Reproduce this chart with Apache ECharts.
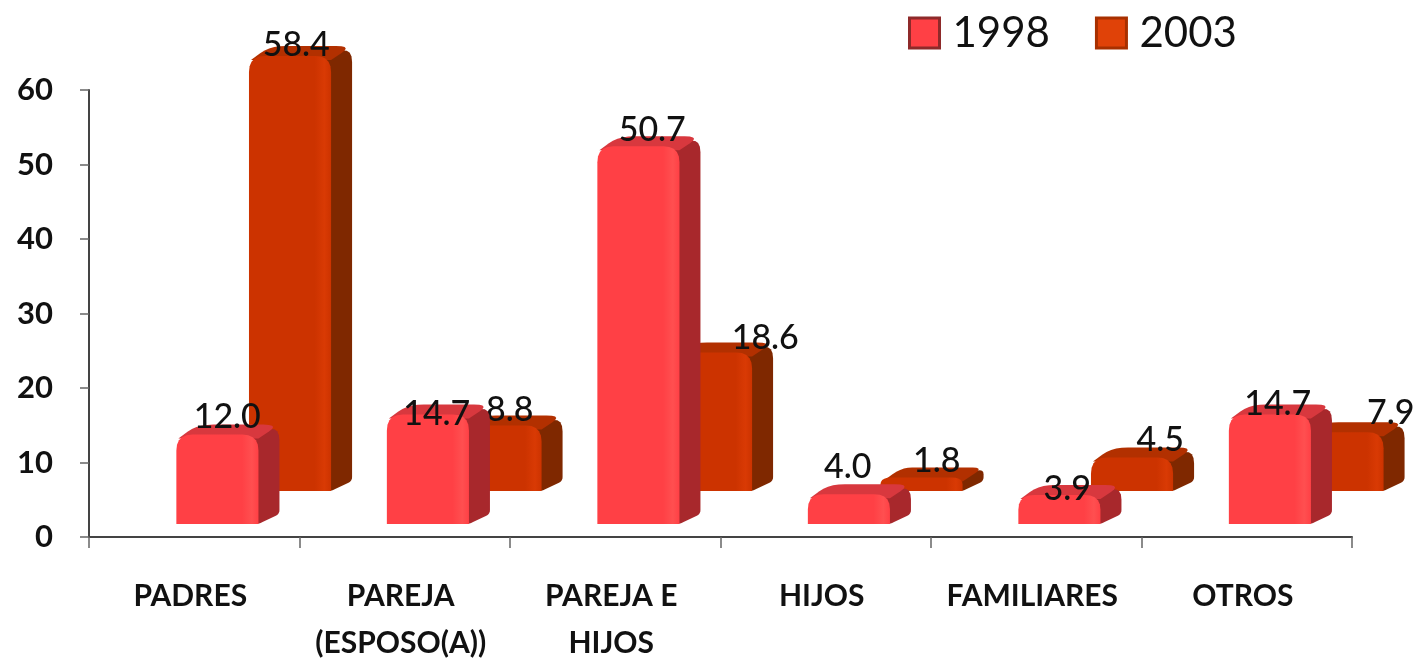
<!DOCTYPE html>
<html lang="es">
<head>
    <meta charset="UTF-8">
    <title>1998 - 2003</title>
    <script src="https://cdn.jsdelivr.net/npm/echarts@6/dist/echarts.min.js"></script>
    <style>
        html, body { margin: 0; padding: 0; background: #ffffff; }
        #main { width: 1422px; height: 659px; filter: blur(0.6px); } /* el original es una imagen reescalada */
    </style>
</head>
<body>
<div id="main"></div>
<script type="text/javascript">
    var categories = ['PADRES', 'PAREJA\n(ESPOSO(A))', 'PAREJA E\nHIJOS', 'HIJOS', 'FAMILIARES', 'OTROS'];
    var values1998 = [12.0, 14.7, 50.7, 4.0, 3.9, 14.7];
    var values2003 = [58.4, 8.8, 18.6, 1.8, 4.5, 7.9];
    var yTicks = [0, 10, 20, 30, 40, 50, 60];

    // las etiquetas del original estan colocadas a mano: ajuste [dx, dy] sobre la barra
    var nudge1998 = [[33, -18], [32, 0], [37, -16], [22, -27], [31, -6], [31, -10]];
    var nudge2003 = [[102, -11], [105, -15], [150, -14], [111, -17], [124, -17], [144, -19]];

    var FONT = 'Lato, "Liberation Sans", sans-serif';

    // poligono con esquinas redondeadas; cada punto es [x, y, radio]
    function roundPoly(pts) {
        var out = [];
        for (var i = 0; i < pts.length; i++) {
            var p = pts[i], a = pts[(i + pts.length - 1) % pts.length], b = pts[(i + 1) % pts.length];
            var r = p[2] || 0;
            if (!r) { out.push([p[0], p[1]]); continue; }
            var la = Math.hypot(a[0] - p[0], a[1] - p[1]), lb = Math.hypot(b[0] - p[0], b[1] - p[1]);
            var ra = Math.min(r, la / 2), rb = Math.min(r, lb / 2);
            var s = [p[0] + (a[0] - p[0]) / la * ra, p[1] + (a[1] - p[1]) / la * ra];
            var e = [p[0] + (b[0] - p[0]) / lb * rb, p[1] + (b[1] - p[1]) / lb * rb];
            for (var t = 0; t <= 1.001; t += 0.2) {
                out.push([
                    (1 - t) * (1 - t) * s[0] + 2 * t * (1 - t) * p[0] + t * t * e[0],
                    (1 - t) * (1 - t) * s[1] + 2 * t * (1 - t) * p[1] + t * t * e[1]
                ]);
            }
        }
        return out;
    }

    function hGrad(c1, c2) {
        return new echarts.graphic.LinearGradient(0, 0, 1, 0, [
            { offset: 0, color: c1 }, { offset: 0.8, color: c1 },
            { offset: 0.92, color: c2 }, { offset: 1, color: c1 }
        ]);
    }

    // barra con falso 3D: la escala del eje da la altura, el suelo va desplazado hacia atras
    function barRenderer(cfg, nudges) {
        return function (params, api) {
            var i = api.value(0), v = api.value(1);
            var zero = api.coord([i, 0]);
            var h = zero[1] - api.coord([i, v])[1];
            var band = api.size([1, 0])[0];
            var x0 = zero[0] + cfg.offset * band;
            var w = 0.39 * band, dx = 21, dy = 10;
            var base = zero[1] - cfg.lift, top = base - h;
            var r = Math.min(16, h * 0.8);
            var n = nudges[i];
            return {
                type: 'group',
                children: [
                    { type: 'polygon', shape: { points: roundPoly([
                        [x0 + w - 8, top + 2, 0], [x0 + w + dx, top - dy, r], [x0 + w + dx, base - dy, 4], [x0 + w, base, 4], [x0 + w - 8, base, 0]
                    ]) }, style: { fill: cfg.side } },
                    { type: 'polygon', shape: { points: roundPoly([
                        [x0 + 2, top + 4, 0], [x0 + dx, top - dy, r], [x0 + w + dx, top - dy, r], [x0 + w, top + 4, 0]
                    ]) }, style: { fill: cfg.top } },
                    { type: 'polygon', shape: { points: roundPoly([
                        [x0, base, 0], [x0, top, r], [x0 + w, top, r], [x0 + w, base, 0]
                    ]) }, style: { fill: hGrad(cfg.front, cfg.shine) } },
                    { type: 'text', z2: 10, style: {
                        text: v.toFixed(1), x: zero[0] + n[0], y: top + n[1],
                        fill: '#111111', font: '500 34px ' + FONT, align: 'center', verticalAlign: 'middle'
                    } }
                ]
            };
        };
    }

    function toData(list) {
        return list.map(function (v, i) { return [i, v]; });
    }

    var chart = echarts.init(document.getElementById('main'), null, { renderer: 'canvas' });

    var style1998 = { offset: -0.085, lift: 13, front: '#ff4045', shine: '#ff4f50', top: '#d8383e', side: '#a8282c' };
    var style2003 = { offset: 0.26, lift: 46, front: '#cc3300', shine: '#d93a04', top: '#b23000', side: '#7f2800' };

    var option = {
        backgroundColor: '#ffffff',
        animation: false,
        legend: {
            left: 903, top: 7,
            itemWidth: 30, itemHeight: 30, itemGap: 45,
            textStyle: { fontFamily: FONT, fontSize: 42, color: '#111111', padding: [0, 0, 0, 8] },
            data: [
                { name: '1998', icon: 'rect', itemStyle: { color: '#ff4045', borderColor: '#8e2a2a', borderWidth: 3 } },
                { name: '2003', icon: 'rect', itemStyle: { color: '#e04208', borderColor: '#a83000', borderWidth: 3 } }
            ]
        },
        grid: { left: 89, top: 90, width: 1263, height: 447, outerBoundsMode: 'none' },
        xAxis: {
            type: 'category',
            data: categories,
            axisLine: { lineStyle: { color: '#444444', width: 2 } },
            axisTick: { show: true, alignWithLabel: false, length: 11, lineStyle: { color: '#666666', width: 1.5 } },
            axisLabel: {
                margin: 36, color: '#111111', fontFamily: FONT, fontSize: 30, fontWeight: 700,
                lineHeight: 47, verticalAlign: 'top', interval: 0, padding: [0, 8, 0, 0]
            }
        },
        yAxis: {
            type: 'value',
            min: yTicks[0],
            max: yTicks[yTicks.length - 1],
            interval: yTicks[1] - yTicks[0],
            splitLine: { show: false },
            axisLine: { show: true, lineStyle: { color: '#444444', width: 2 } },
            axisTick: { show: true, length: 9, lineStyle: { color: '#666666', width: 1.5 } },
            axisLabel: { margin: 36, color: '#111111', fontFamily: FONT, fontSize: 31, fontWeight: 700 }
        },
        series: [
            {
                name: '2003', type: 'custom', z: 2, clip: false,
                renderItem: barRenderer(style2003, nudge2003),
                encode: { x: 0, y: 1 },
                itemStyle: { color: style2003.front },
                data: toData(values2003)
            },
            {
                name: '1998', type: 'custom', z: 3, clip: false,
                renderItem: barRenderer(style1998, nudge1998),
                encode: { x: 0, y: 1 },
                itemStyle: { color: style1998.front },
                data: toData(values1998)
            }
        ]
    };

    chart.setOption(option);
</script>
</body>
</html>
